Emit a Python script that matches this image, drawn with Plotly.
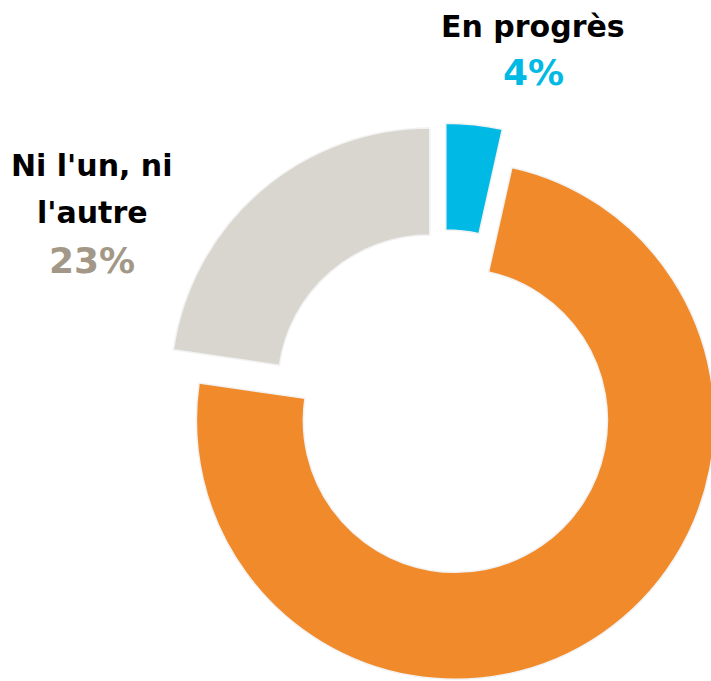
import plotly.graph_objects as go

# ---- data ----
categories = ["En progrès", "En recul", "Ni l'un, ni l'autre"]
values = [3.5, 73.8, 22.7]
slice_colors = ["#00B9E4", "#F08A2B", "#D9D6CF"]
value_colors = ["#00B9E4", "#F08A2B", "#A39887"]
label_lines = [["En progrès"], [], ["Ni l'un, ni", "l'autre"]]
show_label = [True, False, True]

# ---- layout (pixels) ----
W, H = 760, 700
label_pos = [  # (x center, y centers of label lines, y center of value)
    (533, [26], 72),
    None,
    (92, [166, 212], 261),
]
FONT = "DejaVu Sans, Liberation Sans, sans-serif"

fig = go.Figure(go.Pie(
    labels=categories,
    values=values,
    sort=False,
    direction="clockwise",
    rotation=0,
    hole=0.587,
    pull=[0.081] * len(values),
    marker=dict(colors=slice_colors, line=dict(color="#F2F2F2", width=1.5)),
    textinfo="none",
    hoverinfo="label+percent",
    domain=dict(x=[163.5 / W, 723.5 / W], y=[(H - 683) / H, (H - 123) / H]),
))

total = sum(values)
annotations = []
for i, v in enumerate(values):
    if not show_label[i]:
        continue
    cx, line_ys, vy = label_pos[i]
    for txt, ly in zip(label_lines[i], line_ys):
        annotations.append(dict(
            text=f"<b>{txt}</b>", x=cx / W, y=1 - ly / H, xref="paper", yref="paper",
            xanchor="center", yanchor="middle", showarrow=False,
            font=dict(family=FONT, size=30, color="#000000"),
        ))
    pct = int(v / total * 100 + 0.5)
    annotations.append(dict(
        text=f"<b>{pct}%</b>", x=cx / W, y=1 - vy / H,
        xref="paper", yref="paper", xanchor="center", yanchor="middle",
        showarrow=False,
        font=dict(family=FONT, size=36, color=value_colors[i]),
    ))

fig.update_layout(
    width=W, height=H,
    margin=dict(l=0, r=0, t=0, b=0),
    showlegend=False,
    paper_bgcolor="white",
    plot_bgcolor="white",
    annotations=annotations,
)

fig.write_html(
    "out.html",
    config={"displayModeBar": False},
    post_script="document.body.style.margin='0';document.body.style.overflow='hidden';",
)
